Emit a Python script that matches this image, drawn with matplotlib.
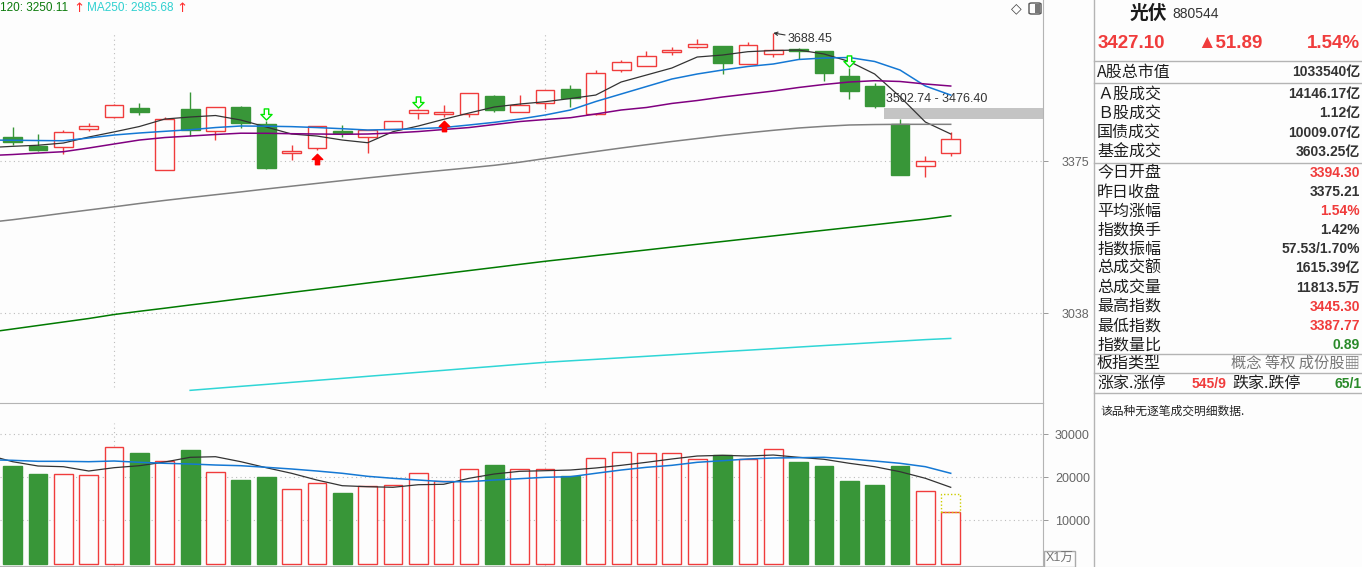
import numpy as np
import matplotlib.pyplot as plt
import matplotlib.transforms as mtransforms
from matplotlib.path import Path
from matplotlib.patches import Rectangle, FancyBboxPatch
from matplotlib.ticker import FixedLocator, FixedFormatter, NullLocator

# daily candles, oldest first
opens = [3432.2, 3410.2, 3407.9, 3450.6, 3479.3, 3501.8, 3355.4, 3499.4, 3447.2, 3505.0,
         3463.2, 3393.7, 3405.5, 3446.5, 3431.5, 3452.0, 3489.0, 3488.0, 3486.6, 3531.0,
         3492.9, 3514.7, 3548.2, 3486.6, 3595.9, 3604.4, 3640.2, 3652.0, 3655.3, 3609.3,
         3634.4, 3647.0, 3642.7, 3580.2, 3555.5, 3463.2, 3363.6, 3394.30]
highs = [3456.1, 3439.4, 3448.9, 3464.9, 3512.0, 3513.9, 3480.8, 3540.8, 3505.0, 3505.5,
         3469.7, 3413.3, 3459.0, 3460.9, 3449.6, 3471.5, 3498.5, 3509.1, 3538.0, 3533.4,
         3534.2, 3545.5, 3558.0, 3595.1, 3620.1, 3642.7, 3653.5, 3673.1, 3656.0, 3666.2,
         3688.45, 3649.5, 3643.0, 3599.3, 3562.2, 3476.40, 3387.4, 3445.30]
lows = [3413.3, 3399.9, 3391.4, 3446.5, 3477.0, 3485.6, 3354.0, 3434.6, 3425.8, 3454.4,
        3357.0, 3378.0, 3401.5, 3432.9, 3393.7, 3450.5, 3474.5, 3480.8, 3479.3, 3492.9,
        3492.0, 3498.7, 3505.0, 3486.0, 3590.9, 3604.0, 3632.6, 3651.5, 3585.2, 3609.0,
        3626.9, 3621.8, 3568.6, 3522.9, 3502.74, 3343.0, 3337.8, 3387.77]
closes = [3421.1, 3402.2, 3443.4, 3457.7, 3508.4, 3492.9, 3475.2, 3448.9, 3504.3, 3466.3,
          3360.4, 3399.2, 3458.5, 3442.5, 3448.2, 3469.7, 3496.3, 3492.2, 3537.6, 3497.0,
          3508.4, 3545.0, 3526.8, 3586.9, 3614.3, 3629.4, 3644.4, 3659.6, 3613.3, 3657.8,
          3645.2, 3642.7, 3586.9, 3544.0, 3507.4, 3343.9, 3375.21, 3427.10]

# moving averages, first value is the day before the visible window
ma5 = [3407, 3410.2, 3412.8, 3418.0, 3432.2, 3444.4, 3457.3, 3475.2, 3480.1, 3483.7, 3472.8,
       3456.1, 3439.4, 3434.6, 3425.1, 3418.7, 3444.9, 3458.5, 3474.5, 3489.7, 3504.3,
       3511.5, 3517.1, 3524.9, 3533.4, 3565.4, 3582.7, 3600.1, 3627.6, 3632.6, 3641.0,
       3644.0, 3645.2, 3635.2, 3616.4, 3585.2, 3529.3, 3468.0, 3439.5]
ma10 = [3425, 3424.6, 3423.9, 3423.4, 3429.9, 3437.0, 3441.8, 3445.8, 3449.6, 3454.8, 3458.5,
        3458.0, 3457.0, 3454.8, 3452.0, 3448.9, 3450.1, 3452.0, 3454.8, 3460.9, 3467.3,
        3475.2, 3484.9, 3497.0, 3517.6, 3535.9, 3554.3, 3572.8, 3585.2, 3595.1, 3603.9,
        3610.1, 3621.4, 3625.1, 3626.4, 3616.4, 3595.1, 3555.5, 3533.4]
ma20 = [3388.3, 3390.9, 3394.4, 3397.5, 3406.2, 3415.7, 3425.1, 3431.0, 3434.6, 3438.2, 3441.3,
        3441.1, 3440.1, 3439.4, 3438.7, 3439.4, 3441.8, 3445.3, 3450.1, 3454.8, 3462.0,
        3469.2, 3474.0, 3478.4, 3487.4, 3497.0, 3503.1, 3512.9, 3520.0, 3528.6, 3535.9,
        3543.2, 3551.9, 3559.3, 3565.4, 3568.6, 3566.7, 3560.5, 3555.5]
ma60 = [3235, 3241.3, 3248.5, 3256.0, 3263.2, 3270.4, 3277.9, 3284.9, 3291.5, 3297.9, 3304.3,
        3311.0, 3317.4, 3323.8, 3330.2, 3336.5, 3342.5, 3348.5, 3354.2, 3359.8, 3365.7,
        3372.9, 3381.5, 3389.8, 3398.0, 3406.2, 3414.0, 3421.6, 3428.7, 3435.8, 3442.2,
        3448.2, 3453.7, 3457.7, 3460.9, 3462.0, 3462.5, 3462.5, 3462.5]
ma120 = [2998, 3005.2, 3012.5, 3019.8, 3027.1, 3035.5, 3042.3, 3048.8, 3055.6, 3062.1, 3068.9,
         3075.5, 3082.3, 3088.9, 3095.6, 3102.4, 3109.0, 3115.7, 3122.5, 3129.2, 3135.9,
         3142.7, 3149.4, 3155.5, 3161.9, 3168.0, 3174.2, 3180.5, 3186.7, 3192.8, 3199.0,
         3205.2, 3211.5, 3217.7, 3223.9, 3230.1, 3236.4, 3242.6, 3250.11]
ma250_start = 7
ma250 = [2880.3, 2884.3, 2888.3, 2892.2, 2896.3, 2900.3, 2904.3, 2908.4, 2912.4, 2916.5,
         2920.5, 2924.6, 2928.6, 2932.7, 2936.7, 2939.8, 2942.8, 2945.9, 2949.0, 2952.1,
         2955.4, 2958.5, 2961.5, 2964.6, 2967.9, 2971.0, 2974.0, 2977.1, 2980.1, 2983.2, 2985.68]

# volume (x1万)
volume = [22620, 20770, 20700, 20460, 26960, 25640, 23710, 26330, 21160, 19370,
          20070, 17210, 18600, 16360, 17900, 18140, 20920, 19070, 21850, 22850,
          21850, 21850, 20300, 24400, 25800, 25570, 25570, 24180, 25170, 24180,
          26500, 23550, 22620, 19140, 18210, 22620, 16820, 11880]
volume_proj = 16060
vol_ma5 = [25200, 23620, 22620, 22460, 21460, 22230, 22690, 23550, 24640, 24780, 23620,
           22230, 20930, 19370, 18050, 17820, 17680, 18280, 18380, 19770, 20770,
           21390, 21530, 21690, 22160, 22780, 23480, 24250, 24940, 25100, 24940,
           25170, 24640, 24180, 23250, 22460, 21300, 19770, 17680]
vol_ma10 = [24080, 23940, 23710, 23710, 23620, 23780, 23480, 23250, 23090, 22850, 22690,
            22320, 21930, 21460, 20930, 20230, 19770, 19370, 18980, 18980, 19370,
            19680, 20000, 20140, 20930, 21690, 22320, 22780, 23480, 23850, 24250,
            24480, 24550, 24640, 24250, 23780, 23250, 22460, 20930]

month_starts = [4, 21]
sell_signals = [10, 16, 33]
buy_signals = [12, 17]
gap_lo, gap_hi = 3476.40, 3502.74
price_ticks = [3038, 3375]
vol_ticks = [10000, 20000, 30000]

info_labels = ['A股总市值', 'Ａ股成交', 'Ｂ股成交', '国债成交', '基金成交', '今日开盘', '昨日收盘',
               '平均涨幅', '指数换手', '指数振幅', '总成交额', '总成交量', '最高指数', '最低指数', '指数量比']
info_values = ['1033540亿', '14146.17亿', '1.12亿', '10009.07亿', '3603.25亿', '3394.30', '3375.21',
               '1.54%', '1.42%', '57.53/1.70%', '1615.39亿', '11813.5万', '3445.30', '3387.77', '0.89']
info_kind = ['n', 'n', 'n', 'n', 'n', 'up', 'n', 'up', 'n', 'n', 'n', 'n', 'up', 'up', 'down']

BG = '#fdfdfd'
RED = '#f03c3c'
GREEN = '#389638'
GRID = '#bcbcbc'
SPINE = '#b4b4b4'
CJK = 'Noto Sans CJK SC'
NUM = 'Liberation Sans'

W, H = 1362, 567
fig = plt.figure(figsize=(W / 100, H / 100), dpi=100, facecolor=BG)


def fx(x):
    return x / W


def fy(y):
    return 1 - y / H


ax = fig.add_axes([0, fy(403), fx(1043), 403 / H], facecolor=BG)
axv = fig.add_axes([0, fy(565.5), fx(1043), (565.5 - 403) / H], facecolor=BG)

n = len(closes)
idx = np.arange(n)
o, h, l, c = map(np.array, (opens, highs, lows, closes))
up = c >= o
cols = np.where(up, RED, GREEN)
xmax = 40.64

# ---- price panel ----
ax.set_yscale('log')
ax.set_xlim(-0.5, xmax)
ax.set_ylim(2855.2, 3773.6)

for p in price_ticks:
    ax.axhline(p, color=GRID, lw=0.8, ls=(0, (1, 3)), zorder=0)
for m in month_starts:
    ax.axvline(m, ymin=0.04, ymax=0.918, color=GRID, lw=0.8, ls=(0, (1, 3)), zorder=0)

ax.fill_between([34.37, xmax], gap_lo, gap_hi, color='#c4c4c4', lw=0, zorder=1)

ax.vlines(idx, l, h, colors=cols, lw=1, zorder=2)
ax.bar(idx, np.maximum(o, c) - np.minimum(o, c), bottom=np.minimum(o, c), width=0.74,
       color=np.where(up, BG, GREEN), edgecolor=cols, linewidth=1, zorder=3)

xm = np.arange(-1, n)
ax.plot(xm, ma5, color='#333333', lw=0.9, zorder=5)
ax.plot(xm, ma10, color='#1478d4', lw=1.1, zorder=5)
ax.plot(xm, ma20, color='#800080', lw=1.1, zorder=5)
ax.plot(xm, ma60, color='#808080', lw=1.1, zorder=5)
ax.plot(xm, ma120, color='#007a00', lw=1.1, zorder=5)
ax.plot(np.arange(ma250_start, n), ma250, color='#2fd6d6', lw=1.1, zorder=5)

down_arrow = Path([(-0.2, 0.5), (0.2, 0.5), (0.2, 0.0), (0.5, 0.0), (0.0, -0.5),
                   (-0.5, 0.0), (-0.2, 0.0), (-0.2, 0.5)], closed=True)
up_arrow = Path([(-0.2, -0.5), (0.2, -0.5), (0.2, 0.0), (0.5, 0.0), (0.0, 0.5),
                 (-0.5, 0.0), (-0.2, 0.0), (-0.2, -0.5)], closed=True)
above = mtransforms.offset_copy(ax.transData, fig=fig, x=0, y=7, units='dots')
below = mtransforms.offset_copy(ax.transData, fig=fig, x=0, y=-9, units='dots')
ax.plot(sell_signals, h[sell_signals], ls='none', marker=down_arrow, ms=8, mfc='white',
        mec='#00e600', mew=1, transform=above, zorder=6)
ax.plot(buy_signals, l[buy_signals], ls='none', marker=up_arrow, ms=7.5, mfc='#ff0000',
        mec='#ff0000', mew=1, transform=below, zorder=6)

top = int(np.argmax(h))
ax.annotate(f'{h[top]:.2f}', xy=(top, h[top]), xytext=(10.5, -4.5), textcoords='offset points',
            ha='left', va='center', fontsize=9, family=NUM, color='#333',
            arrowprops=dict(arrowstyle='->', color='#333', lw=0.8, shrinkA=0, shrinkB=0,
                            mutation_scale=6))
ax.annotate(f'{gap_hi:.2f} - {gap_lo:.2f}', xy=(34.37, gap_hi), xytext=(1.5, 2.2),
            textcoords='offset points', ha='left', va='bottom', fontsize=9, family=NUM, color='#333')

ax.yaxis.tick_right()
ax.yaxis.set_major_locator(FixedLocator(price_ticks))
ax.yaxis.set_major_formatter(FixedFormatter([str(p) for p in price_ticks]))
ax.yaxis.set_minor_locator(NullLocator())
ax.tick_params(axis='y', length=3.6, width=0.7, colors='#999', labelcolor='#666',
               labelsize=9, pad=10)
for lab in ax.get_yticklabels():
    lab.set_family(NUM)
ax.set_xticks([])
for s in ('left', 'top', 'bottom'):
    ax.spines[s].set_visible(False)
ax.spines['right'].set_color(SPINE)

# ---- volume panel ----
vol = np.array(volume, dtype=float)
axv.set_xlim(-0.5, xmax)
axv.set_ylim(-464, 37240)
for v in vol_ticks:
    axv.axhline(v, color=GRID, lw=0.8, ls=(0, (1, 3)), zorder=0)
for m in month_starts:
    axv.axvline(m, ymin=0, ymax=0.877, color=GRID, lw=0.8, ls=(0, (1, 3)), zorder=0)
axv.bar(idx, vol, width=0.74, color=np.where(up, BG, GREEN), edgecolor=cols, linewidth=1, zorder=2)
axv.bar(n - 1, volume_proj - vol[-1], bottom=vol[-1], width=0.74, fill=False,
        edgecolor='#cccc00', linestyle=(0, (1, 1.5)), linewidth=1, zorder=2)
axv.plot(xm, vol_ma5, color='#333333', lw=0.9, zorder=4)
axv.plot(xm, vol_ma10, color='#1478d4', lw=1.1, zorder=4)

axv.yaxis.tick_right()
axv.set_yticks(vol_ticks)
axv.set_yticklabels([str(v) for v in vol_ticks], family=NUM)
axv.tick_params(axis='y', length=3.6, width=0.7, colors='#999', labelcolor='#666',
                labelsize=9, pad=5)
axv.set_xticks([])
axv.spines['left'].set_visible(False)
for s in ('top', 'right', 'bottom'):
    axv.spines[s].set_color(SPINE)

# ---- legend at the top ----
fig.text(fx(0), fy(8), f'120: {ma120[-1]:.2f}', color='#0a7a0a', fontsize=8.5, family=NUM, va='center')
fig.text(fx(73), fy(8), '↑', color='#ff3030', fontsize=9.5, family='DejaVu Sans', va='center')
fig.text(fx(87), fy(8), f'MA250: {ma250[-1]:.2f}', color='#2fd0d0', fontsize=8.5, family=NUM, va='center')
fig.text(fx(176), fy(8), '↑', color='#ff3030', fontsize=9.5, family='DejaVu Sans', va='center')

fig.text(fx(1016), fy(8.5), '◇', color='#444', fontsize=10, family='DejaVu Sans', ha='center', va='center')
fig.patches.append(FancyBboxPatch((fx(1029), fy(14)), fx(12), 11 / H, boxstyle='round,pad=0,rounding_size=0.002',
                                  transform=fig.transFigure, fill=False, ec='#555', lw=1))
fig.patches.append(Rectangle((fx(1035), fy(13)), fx(5), 9 / H, transform=fig.transFigure,
                             color='#777', lw=0))

# x1万 box
fig.patches.append(Rectangle((fx(1044), fy(567)), fx(31), 16.5 / H, transform=fig.transFigure,
                             fill=False, ec='#aaa', lw=1))
fig.text(fx(1059.5), fy(559), 'X1万', color='#777', fontsize=9, family=[NUM, CJK], ha='center', va='center')

# ---- right info panel ----
fig.add_artist(plt.Line2D([fx(1093.5), fx(1093.5)], [0, 1], color=SPINE, lw=1))
for y in (61, 83, 163, 354, 373, 393.3):
    fig.add_artist(plt.Line2D([fx(1094), 1], [fy(y), fy(y)], color=SPINE, lw=1))

fig.text(fx(1130), fy(13), '光伏', fontsize=13.5, fontweight='bold', family=CJK, color='#1a1a1a', va='center')
fig.text(fx(1172), fy(14), '880544', fontsize=10, family=NUM, color='#333', va='center')
fig.text(fx(1098), fy(43), '3427.10', fontsize=13.5, fontweight='bold', family=NUM, color=RED, va='center')
fig.text(fx(1197), fy(43), '▲51.89', fontsize=13.5, fontweight='bold', family=[NUM, 'DejaVu Sans'],
         color=RED, va='center')
fig.text(fx(1360), fy(43), '1.54%', fontsize=13.5, fontweight='bold', family=NUM, color=RED,
         ha='right', va='center')

row_y = [72, 94, 113.3, 132.6, 151.9, 173, 192.1, 211.2, 230.3, 249.4, 268.5, 287.6, 306.7, 325.8, 344.9]
kind_color = {'n': '#333333', 'up': RED, 'down': '#2a8a2a'}
for y, lab, val, k in zip(row_y, info_labels, info_values, info_kind):
    fig.text(fx(1097), fy(y), lab, fontsize=11.5, family=CJK, color='#1e1e1e', va='center')
    fig.text(fx(1360), fy(y), val, fontsize=10, fontweight='bold', family=[NUM, CJK],
             color=kind_color[k], ha='right', va='center')

fig.text(fx(1097), fy(363.7), '板指类型', fontsize=11.5, family=CJK, color='#1e1e1e', va='center')
fig.text(fx(1360), fy(363.7), '概念 等权 成份股▦', fontsize=11, family=[CJK, 'DejaVu Sans'],
         color='#777', ha='right', va='center')
fig.text(fx(1097), fy(383.7), '涨家.涨停', fontsize=11.5, family=CJK, color='#1e1e1e', va='center')
fig.text(fx(1192), fy(383.7), '545/9', fontsize=10, fontweight='bold', family=NUM, color=RED, va='center')
fig.text(fx(1232), fy(383.7), '跌家.跌停', fontsize=11.5, family=CJK, color='#1e1e1e', va='center')
fig.text(fx(1362), fy(383.7), '65/1', fontsize=10, fontweight='bold', family=NUM, color='#2a8a2a',
         ha='right', va='center')
fig.text(fx(1100), fy(411), '该品种无逐笔成交明细数据.', fontsize=8.5, family=CJK, color='#222', va='center')

fig.savefig('out.png', dpi=100, facecolor=BG)
